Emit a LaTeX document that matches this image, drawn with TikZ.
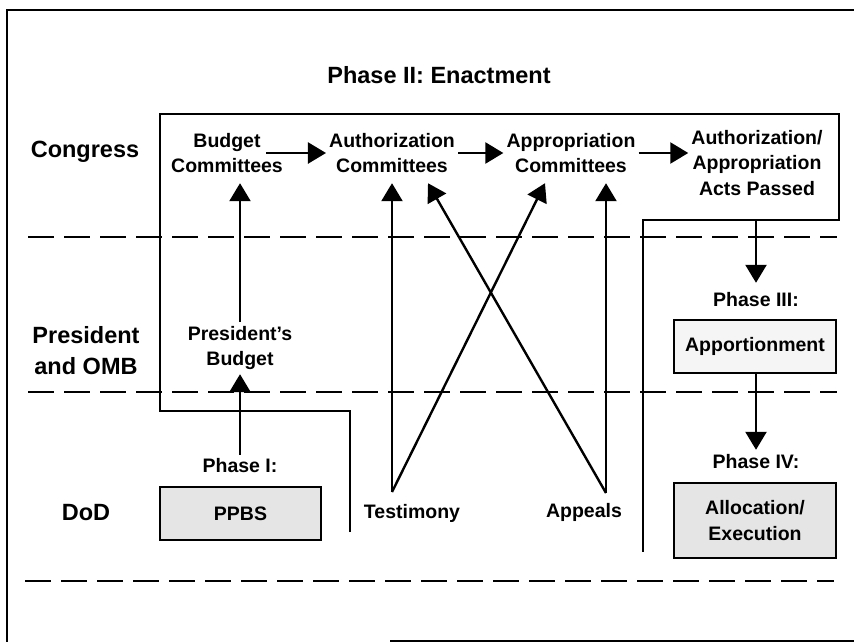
\documentclass[tikz,border=0pt]{standalone}
\usepackage{fontspec}
\setmainfont{Liberation Sans}
\usetikzlibrary{arrows.meta,calc}
\begin{document}
\begin{tikzpicture}[x=1pt,y=-1pt,
  every node/.style={font=\bfseries\fontsize{19.5}{25.5}\selectfont, align=center, inner sep=3pt},
  lab/.style={font=\bfseries\fontsize{23.5}{31}\selectfont},
  comm/.style={minimum height=60pt},
  arr/.style={line width=2.4pt, -{Triangle[length=18pt,width=21pt]}},
  sepline/.style={line width=2.4pt, dash pattern=on 26pt off 10pt},
  frameline/.style={line width=2.4pt},
  phasebox/.style={draw, line width=2.6pt, fill=black!10, inner sep=0pt},
  lightbox/.style={draw, line width=2.6pt, fill=black!4, inner sep=0pt}]
\useasboundingbox (0,0) rectangle (854,642);

% outer frame
\draw[frameline] (7,642) -- (7,10) -- (854,10);
\draw[frameline] (390,641) -- (854,641);

% title and row labels
\node[lab] (title) at (439,75) {Phase II: Enactment};
\node[lab] (congress) at (85,152) {Congress};
\node[lab] (pres) at (86,351) {President\\and OMB};
\node[lab] (dod) at (86,513) {DoD};

% separators
\draw[sepline] (28,237) -- (837,237);
\draw[sepline] (28,392) -- (837,392);
\draw[sepline] (25,581) -- (834,581);

% enactment outline
\draw[frameline] (350,532) -- (350,411) -- (160,411) -- (160,114) -- (839,114)
  -- (839,220) -- (643,220) -- (643,552);

% Congress nodes
\node[comm] (budget) at (227,153) {Budget\\Committees};
\node[comm] (auth) at (392,153) {Authorization\\Committees};
\node[comm] (appr) at (571,153) {Appropriation\\Committees};
\node[minimum height=114pt] (acts) at (757,163) {Authorization/\\Appropriation\\Acts Passed};

% President and OMB
\node[minimum height=52pt] (pb) at (240,348) {President's\\Budget};
\node[minimum height=34pt] (p3) at (756,300) {Phase III:};
\node[lightbox, minimum width=162pt, minimum height=53pt] (appt) at (755,346.5) {Apportionment};

% DoD
\node[minimum height=22pt] (p1) at (240,466) {Phase I:};
\node[phasebox, minimum width=161pt, minimum height=53pt] (ppbs) at (240.5,513.5) {PPBS};
\node (testimony) at (412,513) {Testimony};
\node (appeals) at (584,512) {Appeals};
\coordinate (tpt) at (392,492);
\coordinate (apt) at (606,493);
\node[minimum height=24pt] (p4) at (756,462) {Phase IV:};
\node[phasebox, minimum width=162pt, minimum height=75pt] (alloc) at (755,520.5) {Allocation/\\Execution};

% horizontal arrows
\draw[arr] ([xshift=-20pt]budget.east) -- (auth.west);
\draw[arr] (auth.east) -- (appr.west);
\draw[arr] (appr.east) -- (appr.east -| acts.west);

% vertical arrows
\draw[arr] (p1.north) -- (pb.south);
\draw[arr] (pb.north) -- (pb.north |- budget.south);
\draw[arr] (tpt) -- (tpt |- auth.south);
\draw[arr] (tpt) -- ([xshift=-26pt]appr.south);
\draw[arr] (apt) -- (apt |- appr.south);
\draw[arr] (apt) -- ([xshift=36pt]auth.south);
\draw[arr] (acts.south -| p3.north) -- (p3.north);
\draw[arr] (appt.south -| p4.north) -- (p4.north);
\end{tikzpicture}
\end{document}
